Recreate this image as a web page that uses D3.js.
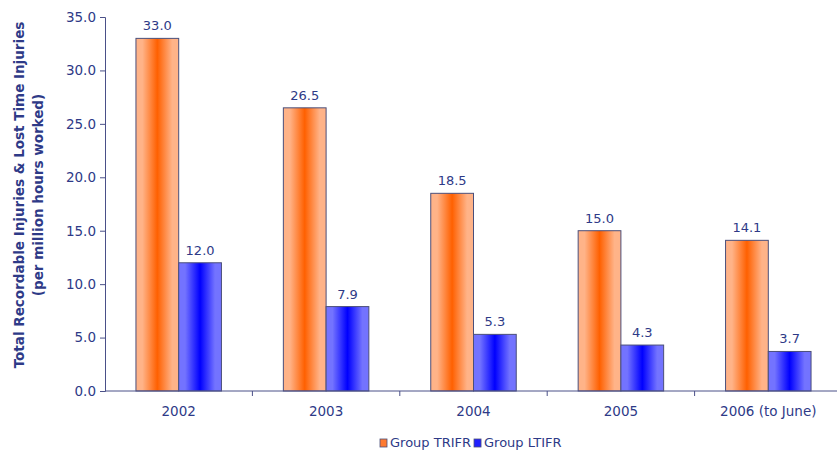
<!DOCTYPE html>
<html>
<head>
<meta charset="utf-8">
<script src="https://cdn.jsdelivr.net/npm/d3@7"></script>
<style>
  html, body { margin: 0; padding: 0; background: #fff; }
  svg { display: block; font-family: "DejaVu Sans", Verdana, sans-serif; }
</style>
</head>
<body>
<svg id="chart" width="837" height="455"></svg>
<script>
// Injury frequency rates per million hours worked
const years = ["2002", "2003", "2004", "2005", "2006 (to June)"];
const trifr = [33.0, 26.5, 18.5, 15.0, 14.1];
const ltifr = [12.0, 7.9, 5.3, 4.3, 3.7];
const seriesNames = ["Group TRIFR", "Group LTIFR"];
const yTicks = [0, 5, 10, 15, 20, 25, 30, 35];

const ink = "#2e3a87";
const axisColor = "#4a5088";

const svg = d3.select("#chart");
const margin = { left: 105, right: -5, top: 17, bottom: 64 };
const W = 837, H = 455;

const x = d3.scaleBand().domain(years)
  .range([margin.left, W - margin.right]).paddingInner(0).paddingOuter(0);
const y = d3.scaleLinear().domain([0, 35]).range([H - margin.bottom, margin.top]);

// gradients: light edges, saturated centre
const defs = svg.append("defs");
function grad(id, edge, mid) {
  const g = defs.append("linearGradient").attr("id", id)
    .attr("x1", "0%").attr("x2", "100%").attr("y1", "0%").attr("y2", "0%");
  g.append("stop").attr("offset", "0%").attr("stop-color", edge);
  g.append("stop").attr("offset", "15%").attr("stop-color", edge);
  g.append("stop").attr("offset", "50%").attr("stop-color", mid);
  g.append("stop").attr("offset", "85%").attr("stop-color", edge);
  g.append("stop").attr("offset", "100%").attr("stop-color", edge);
}
grad("gOrange", "#ffb388", "#ff6000");
grad("gBlue", "#7373ff", "#0000ff");

const series = [
  { name: seriesNames[0], values: trifr, fill: "url(#gOrange)", swatch: "#ff7a30" },
  { name: seriesNames[1], values: ltifr, fill: "url(#gBlue)", swatch: "#2020ff" }
];

const barW = x.bandwidth() * 0.29;
const groupOffset = (x.bandwidth() - 2 * barW) / 2;

series.forEach((s, si) => {
  const g = svg.append("g");
  g.selectAll("rect").data(years).join("rect")
    .attr("x", d => x(d) + groupOffset + si * barW)
    .attr("y", (d, i) => y(s.values[i]))
    .attr("width", barW)
    .attr("height", (d, i) => y(0) - y(s.values[i]))
    .attr("fill", s.fill)
    .attr("stroke", "#4b4f7a")
    .attr("stroke-width", 1);
  g.selectAll("text").data(years).join("text")
    .attr("x", d => x(d) + groupOffset + si * barW + barW / 2)
    .attr("y", (d, i) => y(s.values[i]) - 8)
    .attr("text-anchor", "middle")
    .attr("font-size", 13)
    .attr("fill", ink)
    .text((d, i) => s.values[i].toFixed(1));
});

// y axis
const yAxis = d3.axisLeft(y).tickValues(yTicks).tickFormat(d3.format(".1f")).tickSize(5).tickPadding(4);
const yg = svg.append("g").attr("transform", `translate(${margin.left},0)`).call(yAxis);
yg.select(".domain").attr("stroke", axisColor);
yg.selectAll(".tick line").attr("stroke", axisColor);
yg.selectAll(".tick text").attr("fill", ink).attr("font-size", 13.5)
  .attr("font-family", "DejaVu Sans, Verdana, sans-serif");

// x axis with tick marks at category boundaries
const xg = svg.append("g").attr("transform", `translate(0,${y(0)})`);
xg.append("line").attr("x1", margin.left).attr("x2", W).attr("y1", 0).attr("y2", 0)
  .attr("stroke", axisColor);
xg.selectAll("line.tk").data(years).join("line").attr("class", "tk")
  .attr("x1", d => x(d) + x.bandwidth()).attr("x2", d => x(d) + x.bandwidth())
  .attr("y1", 0).attr("y2", 5).attr("stroke", axisColor);
xg.selectAll("text").data(years).join("text")
  .attr("x", d => x(d) + x.bandwidth() / 2)
  .attr("y", 25)
  .attr("text-anchor", "middle")
  .attr("font-size", 13.5)
  .attr("fill", ink)
  .text(d => d);

// y axis title
const title = svg.append("text")
  .attr("transform", "translate(24,195) rotate(-90)")
  .attr("text-anchor", "middle")
  .attr("font-size", 13.5)
  .attr("font-weight", "bold")
  .attr("fill", ink);
title.append("tspan").attr("x", 0).attr("dy", 0).text("Total Recordable Injuries & Lost Time Injuries");
title.append("tspan").attr("x", 0).attr("dy", 19).text("(per million hours worked)");

// legend
const legend = svg.append("g").attr("transform", "translate(380,445)");
let lx = 0;
series.forEach(s => {
  const item = legend.append("g").attr("transform", `translate(${lx},0)`);
  item.append("rect").attr("x", 0).attr("y", -6).attr("width", 7).attr("height", 8)
    .attr("fill", s.swatch).attr("stroke", "#4b4f7a").attr("stroke-width", 0.8);
  const t = item.append("text").attr("x", 10).attr("y", 2)
    .attr("font-size", 13).attr("fill", ink).text(s.name);
  lx += 10 + t.node().getComputedTextLength() + 3;
});
</script>
</body>
</html>
